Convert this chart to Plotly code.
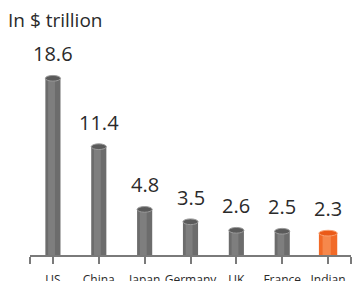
import plotly.graph_objects as go

countries = ["US", "China", "Japan", "Germany", "UK", "France", "Indian"]
gdp = [18.6, 11.4, 4.8, 3.5, 2.6, 2.5, 2.3]
labels = ["18.6", "11.4", "4.8", "3.5", "2.6", "2.5", "2.3"]

GRAY_BODY = "#6c6c6c"
GRAY_HI = "#7e7e7e"
GRAY_CAP = "#5a5a5a"
GRAY_RIM = "#9a9a9a"
OR_BODY = "#f26a27"
OR_HI = "#f6884c"
OR_CAP = "#ea5a18"
OR_RIM = "#f8a070"

n = len(countries)
xs = list(range(n))
is_hl = [c == "Indian" for c in countries]
widths = [0.4 if h else 0.33 for h in is_hl]
body = [OR_BODY if h else GRAY_BODY for h in is_hl]
hi = [OR_HI if h else GRAY_HI for h in is_hl]

fig = go.Figure()
fig.add_trace(go.Bar(x=xs, y=gdp, width=widths, marker=dict(color=body, line=dict(width=0)),
                     hoverinfo="skip"))
fig.add_trace(go.Bar(x=[x - 0.03 for x in xs], y=gdp, width=[w * 0.45 for w in widths],
                     marker=dict(color=hi, line=dict(width=0)), hoverinfo="skip"))

shapes = []
for x, v, w, h in zip(xs, gdp, widths, is_hl):
    shapes.append(dict(type="circle", xref="x", yref="y",
                       x0=x - w / 2, x1=x + w / 2, y0=v - 0.3, y1=v + 0.3,
                       fillcolor=OR_CAP if h else GRAY_CAP,
                       line=dict(color=OR_RIM if h else GRAY_RIM, width=1)))

annotations = [dict(x=x, y=v, text=t, showarrow=False, yanchor="bottom", yshift=9,
                    font=dict(size=20, color="#2a2a2a", family="Open Sans"))
               for x, v, t in zip(xs, gdp, labels)]

fig.update_layout(
    template="none",
    width=352, height=281, margin=dict(l=30, r=1, t=27, b=26),
    paper_bgcolor="white", plot_bgcolor="white",
    barmode="overlay", showlegend=False,
    shapes=shapes, annotations=annotations,
    title=dict(text="In $ trillion", x=8 / 352, xanchor="left", xref="container",
               y=1 - 20 / 281, yanchor="middle", yref="container",
               font=dict(size=19, color="#2a2a2a", family="Open Sans")),
    xaxis=dict(range=[-0.5, n - 0.5], tickvals=[-0.5] + xs + [n - 0.5],
               ticktext=[""] + countries + [""], ticks="outside", ticklen=7,
               tickcolor="#7a7a7a", tickwidth=1.5, showline=True, linecolor="#7a7a7a",
               linewidth=1.5, showgrid=False, zeroline=False, ticklabelstandoff=6,
               automargin=False,
               tickfont=dict(size=12, color="#2a2a2a", family="Open Sans")),
    yaxis=dict(range=[0, 24], visible=False, showgrid=False, zeroline=False, automargin=False),
)

fig.write_html("out.html", config={"displayModeBar": False},
               post_script="document.body.style.margin='0';document.body.style.overflow='hidden';")
